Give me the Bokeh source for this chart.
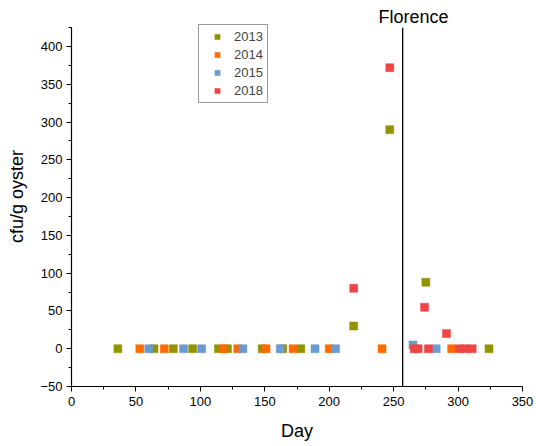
from bokeh.plotting import figure
from bokeh.models import Label, Legend, LegendItem, Range1d, SingleIntervalTicker
from bokeh.embed import file_html
from bokeh.resources import INLINE

# Data (day of year, cfu/g oyster)
day_2013 = [36, 64, 79, 94, 114, 121, 148, 164, 178, 219, 247, 275, 324]
val_2013 = [0, 0, 0, 0, 0, 0, 0, 0, 0, 30, 290, 88, 0]
day_2014 = [53, 72, 118, 129, 151, 172, 200, 241, 295]
val_2014 = [0, 0, 0, 0, 0, 0, 0, 0, 0]
day_2015 = [60, 87, 101, 133, 162, 189, 205, 265, 283]
val_2015 = [0, 0, 0, 0, 0, 0, 0, 5, 0]
day_2018 = [219, 247, 266, 269, 274, 277, 291, 301, 306, 311]
val_2018 = [80, 372, 0, 0, 55, 0, 20, 0, 0, 0]
florence_day = 257
years = ["2013", "2014", "2015", "2018"]
colors = ["#939300", "#FF6A00", "#6A9BD1", "#F04545"]

Y_MIN, Y_MAX = -50, 425
FONT = "Liberation Sans"

p = figure(width=536, height=446, output_backend="svg", toolbar_location=None,
           x_range=Range1d(0, 350), y_range=Range1d(Y_MIN, 453),
           min_border_left=71, min_border_right=14, min_border_top=6, min_border_bottom=60)
p.outline_line_color = None
p.xgrid.visible = False
p.ygrid.visible = False

series = [(day_2013, val_2013), (day_2014, val_2014), (day_2015, val_2015), (day_2018, val_2018)]
items = []
for (xs, ys), yr, c in zip(series, years, colors):
    r = p.scatter(xs, ys, marker="square", size=8, fill_color=c, line_color=c, line_alpha=0.5)
    items.append(LegendItem(label=yr, renderers=[r]))

# Florence landfall line
p.segment(x0=[florence_day], y0=[Y_MIN], x1=[florence_day], y1=[Y_MAX],
          line_color="black", line_width=1.3)

lab = Label(x=florence_day + 8.5, y=439, text="Florence", text_font=FONT, text_font_size="18px",
            text_align="center", text_baseline="middle", text_color="black")
p.add_layout(lab)

legend = Legend(items=items, location=(127, 283), padding=4, glyph_width=28, glyph_height=13,
                label_standoff=3, spacing=3, margin=0,
                label_text_font=FONT, label_text_font_size="13px",
                border_line_color="#333333", border_line_width=1,
                background_fill_color="white", background_fill_alpha=1)
p.add_layout(legend, "center")

for ax in (p.xaxis[0], p.yaxis[0]):
    ax.axis_line_color = "black"
    ax.axis_line_width = 1.2
    ax.major_tick_line_color = "black"
    ax.minor_tick_line_color = "black"
    ax.major_tick_out = 5
    ax.major_tick_in = 0
    ax.minor_tick_out = 3
    ax.minor_tick_in = 0
    ax.major_label_text_font = FONT
    ax.major_label_text_font_size = "13px"
    ax.major_label_text_color = "black"
    ax.axis_label_text_font = FONT
    ax.axis_label_text_font_size = "18px"
    ax.axis_label_text_font_style = "normal"
    ax.axis_label_text_color = "black"

p.xaxis[0].ticker = SingleIntervalTicker(interval=50, num_minor_ticks=2)
p.yaxis[0].ticker = SingleIntervalTicker(interval=50, num_minor_ticks=2)
p.yaxis[0].bounds = (Y_MIN, Y_MAX)
p.xaxis[0].axis_label = "Day"
p.yaxis[0].axis_label = "cfu/g oyster"
p.xaxis[0].axis_label_standoff = 12
p.yaxis[0].axis_label_standoff = 10
p.xaxis[0].major_label_standoff = 5
p.yaxis[0].major_label_standoff = 4

open("out.html", "w").write(file_html(p, INLINE))
